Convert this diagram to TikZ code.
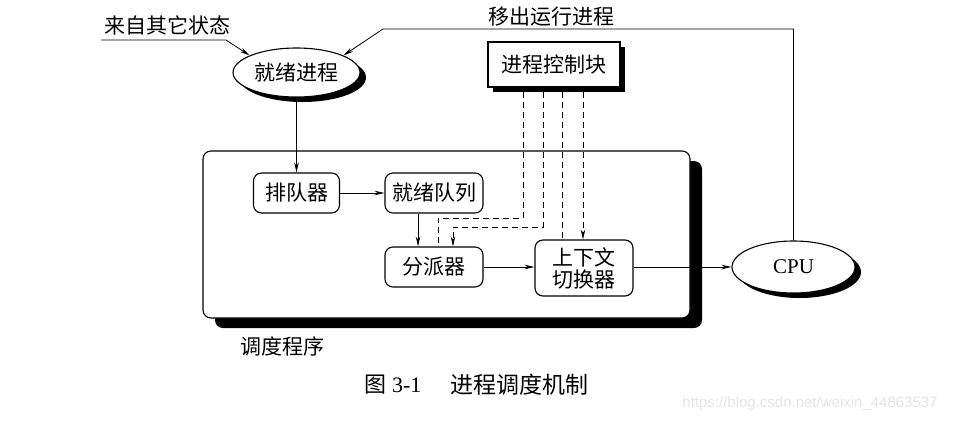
\documentclass[tikz,border=0pt]{standalone}
\usepackage{fontspec}
\setmainfont{Liberation Serif}
\newfontfamily\cjk{Noto Sans CJK SC}
\newfontfamily\wmfont{Liberation Sans}
\usetikzlibrary{arrows.meta,shapes.geometric,shadows}
\begin{document}
\begin{tikzpicture}[x=1pt,y=-1pt,
  cn/.style={font=\cjk\fontsize{21}{25}\selectfont},
  box/.style={cn,draw,line width=1.1pt,rounded corners=8pt,fill=white,inner sep=0pt,align=center},
  ell/.style={draw,line width=1.1pt,ellipse,fill=white,inner sep=0pt,
    general shadow={shadow xshift=6pt,shadow yshift=-5pt,fill=black}},
  ln/.style={line width=0.8pt},
  arr/.style={ln,-{Stealth[length=10pt,width=4.5pt]}},
  dsh/.style={line width=0.8pt,dash pattern=on 6pt off 4pt},
  darr/.style={dsh,-{Stealth[length=10pt,width=4.5pt]}}]
\useasboundingbox (0,0) rectangle (956,424);

% scheduler frame
\node[draw,line width=1.1pt,rounded corners=8pt,fill=white,minimum width=487pt,minimum height=167pt,
  general shadow={shadow xshift=12pt,shadow yshift=-10pt,fill=black,rounded corners=8pt}] (sched) at (446.5,234.5) {};
\node[cn,anchor=west] (schedlbl) at (237,346) {调度程序};

% ellipses
\node[ell,cn,minimum width=127pt,minimum height=49pt] (rp) at (296.5,72.5) {就绪进程};
\node[ell,minimum width=123pt,minimum height=52pt,font=\fontsize{21}{25}\selectfont] (cpu) at (793.5,267) {CPU};

% PCB
\node[cn,draw,line width=1.1pt,fill=white,minimum width=132pt,minimum height=45pt,inner sep=0pt,
  general shadow={shadow xshift=5pt,shadow yshift=-5pt,fill=black}] (pcb) at (554,64.5) {进程控制块};

% boxes
\node[box,minimum width=86pt,minimum height=40pt] (q) at (296.5,193) {排队器};
\node[box,minimum width=98pt,minimum height=40pt] (rq) at (434,193) {就绪队列};
\node[box,minimum width=98pt,minimum height=40pt] (d) at (434,267) {分派器};
\node[box,minimum width=98pt,minimum height=56pt,font=\cjk\fontsize{21}{22}\selectfont] (cs) at (584,268) {上下文\\切换器};

% labels
\node[cn] (fromlbl) at (167,25) {来自其它状态};
\node[cn] (outlbl) at (551,17) {移出运行进程};

% solid connectors
\coordinate (in1) at (101,40);
\coordinate (in2) at (226,40);
\draw[arr] (in1) -- (in2) -- (rp.160);
\coordinate (top1) at (793.5,29);
\coordinate (top2) at (383,29);
\draw[arr] (cpu.north) -- (top1) -- (top2) -- (rp.20);
\draw[arr] (rp.south) -- (q.north);
\draw[arr] (q.east) -- (rq.west);
\draw[arr] (rq.south -| 418,0) -- (d.north -| 418,0);
\draw[arr] (d.east) -- (d.east -| cs.west);
\draw[arr] (cs.east |- cpu.west) -- (cpu.west);

% dashed connectors
\coordinate (p1) at (523,92);
\coordinate (p2) at (543,92);
\coordinate (p3) at (562,92);
\coordinate (p4) at (583,92);
\coordinate (b1) at (523,218);
\coordinate (c1) at (438,218);
\coordinate (b2) at (543,227);
\coordinate (c2) at (453,227);
\draw[dsh] (p1) -- (b1) -- (c1) -- (c1 |- d.north);
\draw[darr] (p2) -- (b2) -- (c2) -- (c2 |- d.north);
\draw[dsh] (p3) -- (p3 |- cs.north);
\draw[darr] (p4) -- (p4 |- cs.north);

% caption
\node[anchor=west,font=\fontsize{22}{26}\selectfont] (cap1) at (361,385) {{\cjk 图} 3-1};
\node[anchor=west,font=\cjk\fontsize{23}{27}\selectfont] (cap2) at (447,385) {进程调度机制};
\node[font=\wmfont\fontsize{15}{18}\selectfont,text=black!10] (wm) at (810,404) {https://blog.csdn.net/weixin\_44863537};
\end{tikzpicture}
\end{document}
